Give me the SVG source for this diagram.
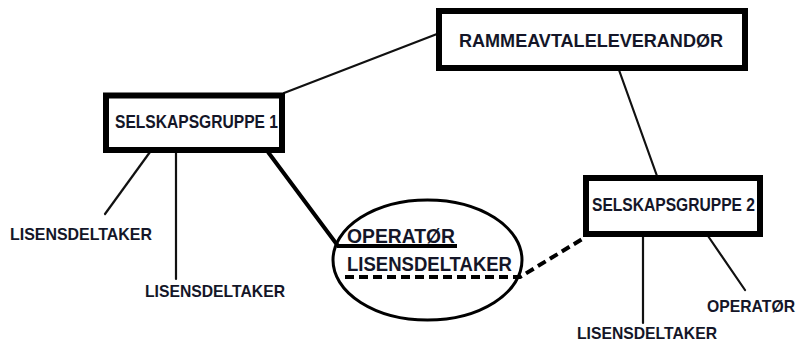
<svg xmlns="http://www.w3.org/2000/svg" width="801" height="342" viewBox="0 0 801 342">
  <style>
    .box { fill: #fff; stroke: #000; stroke-width: 6; }
    .thin { fill: none; stroke: #111; stroke-width: 2.2; stroke-linecap: round; }
    .thick { fill: none; stroke: #000; stroke-width: 4; stroke-linejoin: miter; }
    .dash { fill: none; stroke: #000; stroke-width: 4; stroke-dasharray: 9 5; }
    .lbl { font-family: "Liberation Sans", Arial, sans-serif; font-weight: bold; fill: #141628; }
  </style>
  <rect width="801" height="342" fill="#fff"/>

  <g id="connectors">
    <line class="thin" x1="284" y1="93" x2="437" y2="34"/>
    <line class="thin" x1="619" y1="70" x2="657" y2="176"/>
    <line class="thin" x1="150" y1="152" x2="105" y2="214"/>
    <line class="thin" x1="176" y1="152" x2="176" y2="279"/>
    <line class="thin" x1="643" y1="236" x2="643" y2="323"/>
    <line class="thin" x1="708" y1="236" x2="745" y2="290"/>
    <polyline class="thick" points="268,152 338,246 457,246"/>
    <polyline class="dash" points="345,277 520,277 584,238"/>
  </g>

  <g id="rammeavtaleleverandor">
    <rect class="box" x="439" y="11" width="306" height="57"/>
    <text class="lbl" x="459" y="47" font-size="19" textLength="264" lengthAdjust="spacingAndGlyphs">RAMMEAVTALELEVERANDØR</text>
  </g>

  <g id="selskapsgruppe1">
    <rect class="box" x="106" y="95.5" width="176" height="54.5"/>
    <text class="lbl" x="115" y="128" font-size="19" textLength="163" lengthAdjust="spacingAndGlyphs">SELSKAPSGRUPPE 1</text>
  </g>

  <g id="selskapsgruppe2">
    <rect class="box" x="586" y="178" width="174" height="56"/>
    <text class="lbl" x="592" y="211" font-size="19" textLength="163" lengthAdjust="spacingAndGlyphs">SELSKAPSGRUPPE 2</text>
  </g>

  <g id="operator-lisensdeltaker">
    <ellipse cx="427.5" cy="260" rx="94.5" ry="60" fill="none" stroke="#000" stroke-width="3"/>
    <text class="lbl" x="347" y="243" font-size="19.5" textLength="108" lengthAdjust="spacingAndGlyphs">OPERATØR</text>
    <text class="lbl" x="347" y="271" font-size="19.5" textLength="165" lengthAdjust="spacingAndGlyphs">LISENSDELTAKER</text>
  </g>

  <g id="lisensdeltaker-1a">
    <text class="lbl" x="10" y="240" font-size="17" textLength="142" lengthAdjust="spacingAndGlyphs">LISENSDELTAKER</text>
  </g>
  <g id="lisensdeltaker-1b">
    <text class="lbl" x="145" y="297" font-size="17" textLength="140" lengthAdjust="spacingAndGlyphs">LISENSDELTAKER</text>
  </g>
  <g id="operator-2">
    <text class="lbl" x="707" y="312" font-size="16.5" textLength="88" lengthAdjust="spacingAndGlyphs">OPERATØR</text>
  </g>
  <g id="lisensdeltaker-2">
    <text class="lbl" x="577" y="339" font-size="16.5" textLength="140" lengthAdjust="spacingAndGlyphs">LISENSDELTAKER</text>
  </g>
</svg>
